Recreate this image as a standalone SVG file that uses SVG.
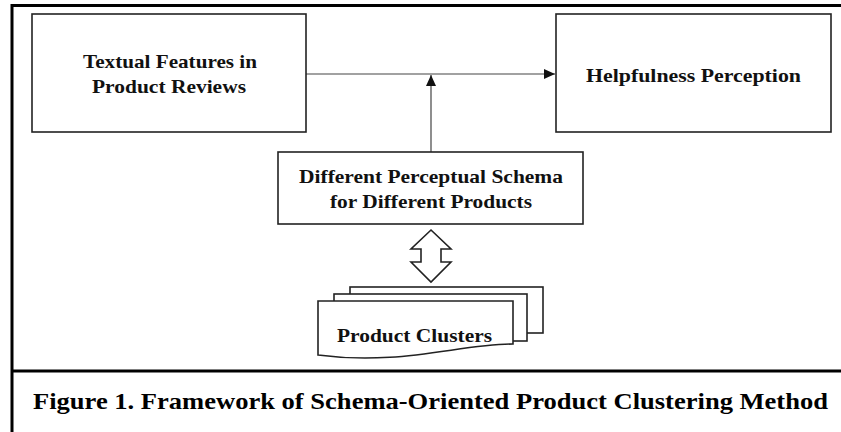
<svg xmlns="http://www.w3.org/2000/svg" width="841" height="432" viewBox="0 0 841 432">
<style>
.box{fill:#fff;stroke:#222;stroke-width:1.6}
.node{font-family:"Liberation Serif","DejaVu Serif",serif;font-weight:bold;font-size:19px;fill:#111}
.conn{stroke:#444;stroke-width:1.2;fill:none}
.frame{stroke:#000;stroke-width:3;fill:none}
.cap{font-family:"Liberation Serif","Times New Roman",serif;font-weight:bold;font-size:24px;fill:#000}
</style>
<defs>
<marker id="ah" markerWidth="12" markerHeight="12" refX="11" refY="5" orient="auto" markerUnits="userSpaceOnUse">
<path d="M0,0 L11,5 L0,10 Z" fill="#111"/>
</marker>
</defs>
<rect x="0" y="0" width="841" height="432" fill="#fff"/>
<g id="frame">
<path class="frame" d="M12,432 V5.5 H841"/>
<path class="frame" d="M12,371 H841"/>
</g>
<g id="connectors">
<line class="conn" x1="306" y1="74" x2="555" y2="74" marker-end="url(#ah)"/>
<line class="conn" x1="431" y1="152" x2="431" y2="75" marker-end="url(#ah)"/>
<polygon id="double-arrow" points="431,230 451,249 441,249 441,262 451,262 431,282 411,262 421,262 421,249 411,249" fill="#fff" stroke="#222" stroke-width="1.6"/>
</g>
<g id="textual-features">
<rect class="box" x="32" y="14" width="274" height="118"/>
<text class="node" x="170" y="68" text-anchor="middle" textLength="174" lengthAdjust="spacingAndGlyphs">Textual Features in</text>
<text class="node" x="169" y="93" text-anchor="middle" textLength="154" lengthAdjust="spacingAndGlyphs">Product Reviews</text>
</g>
<g id="helpfulness">
<rect class="box" x="556" y="14" width="275" height="118"/>
<text class="node" x="693.5" y="82" text-anchor="middle" textLength="215" lengthAdjust="spacingAndGlyphs">Helpfulness Perception</text>
</g>
<g id="schema">
<rect class="box" x="278" y="152" width="305" height="72"/>
<text class="node" x="431" y="183" text-anchor="middle" textLength="264" lengthAdjust="spacingAndGlyphs">Different Perceptual Schema</text>
<text class="node" x="431" y="208" text-anchor="middle" textLength="202" lengthAdjust="spacingAndGlyphs">for Different Products</text>
</g>
<g id="product-clusters">
<rect class="box" x="350" y="287" width="193" height="46"/>
<rect class="box" x="334" y="294" width="193" height="47"/>
<path class="box" d="M318,301 H513 V344 C460,344 400,366 318,355 Z"/>
<text class="node" x="414.5" y="342" text-anchor="middle" textLength="155" lengthAdjust="spacingAndGlyphs">Product Clusters</text>
</g>
<g id="caption">
<text class="cap" x="33" y="409" textLength="795" lengthAdjust="spacingAndGlyphs">Figure 1. Framework of Schema-Oriented Product Clustering Method</text>
</g>
</svg>
